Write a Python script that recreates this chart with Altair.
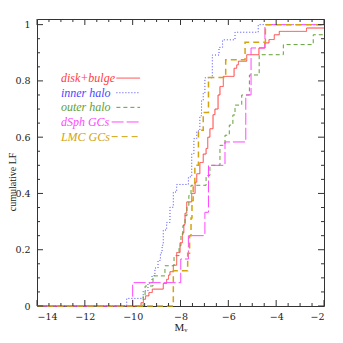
import altair as alt
import pandas as pd
import numpy as np

# ---- data: step positions (M_V) and cumulative fraction reached at each step ----
disk_m = [-9.65, -9.55, -9.46, -9.32, -9.18, -8.72, -8.58, -8.50, -8.44, -8.30,
          -8.16, -8.02, -7.92, -7.86, -7.81, -7.74, -7.53, -7.39, -7.32, -7.19,
          -7.05, -6.93, -6.86, -6.77, -6.64, -6.56, -6.43, -6.35, -6.21, -5.76,
          -5.65, -5.58, -5.23, -4.72, -4.47, -4.30, -4.08, -3.87, -2.73]
disk_f = [0.012, 0.024, 0.036, 0.048, 0.060, 0.080, 0.095, 0.110, 0.122, 0.145,
          0.190, 0.225, 0.260, 0.290, 0.330, 0.370, 0.400, 0.440, 0.470, 0.510,
          0.540, 0.560, 0.600, 0.630, 0.680, 0.700, 0.750, 0.780, 0.816, 0.845,
          0.857, 0.870, 0.893, 0.917, 0.935, 0.947, 0.964, 0.976, 0.988]

inner_m = [-10.25, -9.56, -9.36, -9.19, -9.07, -8.94, -8.84, -8.77, -8.72, -8.58,
           -8.44, -8.30, -8.16, -7.67, -7.53, -7.44, -7.32, -7.19, -7.12, -7.05,
           -6.98, -6.67, -6.39, -6.24, -5.72, -4.75]
inner_f = [0.027, 0.054, 0.081, 0.108, 0.135, 0.162, 0.189, 0.216, 0.270, 0.297,
           0.351, 0.405, 0.432, 0.459, 0.541, 0.595, 0.622, 0.676, 0.730, 0.757,
           0.811, 0.892, 0.919, 0.946, 0.973, 1.000]

outer_m = [-9.56, -9.48, -9.15, -8.65, -8.27, -8.06, -7.98, -7.90, -7.81, -7.73,
           -7.65, -7.56, -6.93, -6.77, -6.35, -6.14, -5.96, -5.81, -5.72, -5.44,
           -5.12, -4.71, -3.70, -2.45]
outer_f = [0.036, 0.071, 0.107, 0.143, 0.179, 0.214, 0.250, 0.286, 0.321, 0.357,
           0.393, 0.429, 0.464, 0.500, 0.571, 0.607, 0.643, 0.679, 0.714, 0.750,
           0.821, 0.893, 0.929, 0.964]

dsph_m = [-10.0, -7.99, -7.67, -6.98, -6.83, -6.14, -5.27, -5.05, -4.47]
dsph_f = [0.083, 0.167, 0.250, 0.333, 0.500, 0.583, 0.750, 0.917, 1.000]

lmc_m = [-8.30, -7.70, -7.62, -7.56, -7.52, -7.47, -7.40, -7.25, -7.05, -6.83,
         -6.11, -5.30, -4.45]
lmc_f = [0.125, 0.1875, 0.250, 0.3125, 0.375, 0.4375, 0.500, 0.625, 0.6875,
         0.8125, 0.875, 0.9375, 1.000]

labels = ["disk+bulge", "inner halo", "outer halo", "dSph GCs", "LMC GCs"]
colors = ["#ff4040", "#4848ff", "#62a034", "#ff48ff", "#d4a410"]
dashes = [[1, 0], [1, 2], [4, 3], [12, 3], [6, 4]]
widths = [1.0, 1.0, 1.0, 1.0, 1.5]

x_major = [-14, -12, -10, -8, -6, -4, -2]
y_major = [0, 0.2, 0.4, 0.6, 0.8, 1.0]
y_title = "cumulative LF"

W = H = 287
X_DOM = [-14, -2]
Y_DOM = [0, 1.02]
FRAME = "#333333"
FONT = "DejaVu Serif"
TFONT = "Liberation Serif"

xscale = alt.Scale(domain=X_DOM, nice=False, zero=False)
yscale = alt.Scale(domain=Y_DOM, nice=False, zero=False)

xaxis = alt.Axis(values=x_major, ticks=False, tickSize=0, domain=False, grid=False,
                 labelExpr="replace(format(datum.value, 'd'), '-', '\u2212')",
                 labelFont=FONT, labelFontSize=9.5, labelColor="#222", labelPadding=5,
                 title="Mᵥ", titleFont=TFONT, titleFontSize=11, titleFontWeight="normal",
                 titleColor="#222", titleY=21, titleBaseline="middle")
yaxis = alt.Axis(values=y_major, format="~g", ticks=False, tickSize=0, domain=False,
                 grid=False, labelFont=FONT, labelFontSize=9.5, labelColor="#222",
                 labelPadding=7, title=None)


def X(field):
    return alt.X(field, type="quantitative", scale=xscale, axis=xaxis)


def Y(field):
    return alt.Y(field, type="quantitative", scale=yscale, axis=yaxis)


def step_df(xv, fv):
    return pd.DataFrame({"M": [X_DOM[0]] + xv + [X_DOM[1]],
                         "F": [0.0] + fv + [fv[-1]]})


series = [(disk_m, disk_f), (inner_m, inner_f), (outer_m, outer_f),
          (dsph_m, dsph_f), (lmc_m, lmc_f)]

layers = []
for (xv, fv), col, dash, wd in zip(series, colors, dashes, widths):
    layers.append(
        alt.Chart(step_df(xv, fv)).mark_line(
            interpolate="step-after", color=col, strokeDash=dash, strokeWidth=wd
        ).encode(x=X("M"), y=Y("F"))
    )

# ---- inward ticks on all four sides ----
x_all = np.arange(-14, -2 + 1e-9, 0.5)
x_minor = [float(v) for v in x_all if float(v) not in x_major]
y_all = np.round(np.arange(0, 1.0 + 1e-9, 0.05), 2)
y_minor = [float(v) for v in y_all if float(v) not in y_major]

for vals, ln in ((x_major, 6), (x_minor, 3)):
    d = pd.DataFrame({"t": vals})
    layers.append(alt.Chart(d).mark_rule(color=FRAME, strokeWidth=1).encode(
        x=X("t"), y=alt.value(H), y2=alt.value(H - ln)))
    layers.append(alt.Chart(d).mark_rule(color=FRAME, strokeWidth=1).encode(
        x=X("t"), y=alt.value(0), y2=alt.value(ln)))
for vals, ln in ((y_major, 6), (y_minor, 3)):
    d = pd.DataFrame({"t": vals})
    layers.append(alt.Chart(d).mark_rule(color=FRAME, strokeWidth=1).encode(
        y=Y("t"), x=alt.value(0), x2=alt.value(ln)))
    layers.append(alt.Chart(d).mark_rule(color=FRAME, strokeWidth=1).encode(
        y=Y("t"), x=alt.value(W), x2=alt.value(W - ln)))

# ---- y-axis title as a rotated text ----
layers.append(alt.Chart(pd.DataFrame({"t": [y_title]})).mark_text(
    angle=270, align="center", baseline="middle", font=TFONT, fontSize=10,
    color="#222"
).encode(text="t:N", x=alt.value(-24), y=alt.value(163)))

# ---- in-plot legend: text then line sample ----
leg = pd.DataFrame({
    "label": labels,
    "ty": [0.810 - 0.052 * i for i in range(5)],
    "tx": [-13.0] * 5,
    "lx": [-10.68, -10.68, -10.68, -10.88, -10.88],
    "lx2": [-9.69] * 5,
})
cscale = alt.Scale(domain=labels, range=colors)
layers.append(alt.Chart(leg).mark_text(
    align="left", baseline="middle", font=TFONT, fontStyle="italic", fontSize=12
).encode(x=X("tx"), y=Y("ty"), text="label:N",
         color=alt.Color("label:N", scale=cscale, legend=None)))
layers.append(alt.Chart(leg).mark_rule(strokeWidth=1).encode(
    x=X("lx"), x2="lx2", y=Y("ty"),
    color=alt.Color("label:N", scale=cscale, legend=None),
    strokeDash=alt.StrokeDash("label:N", scale=alt.Scale(domain=labels, range=dashes),
                              legend=None)))

chart = alt.layer(*layers).properties(
    width=W, height=H,
    autosize=alt.AutoSizeParams(type="none"),
    padding={"left": 29, "top": 11, "right": 11, "bottom": 29},
    background="white",
).configure_view(stroke=FRAME, strokeWidth=1)

chart.save("out.html", embed_options={"renderer": "svg", "actions": False})
